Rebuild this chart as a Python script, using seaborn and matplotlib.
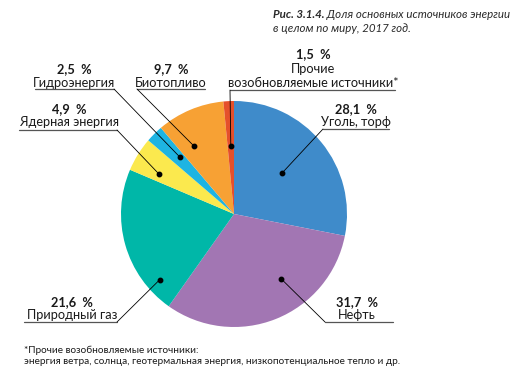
import numpy as np
import matplotlib
matplotlib.use("Agg")
import matplotlib.pyplot as plt
import seaborn as sns

# data
sources = ["Уголь, торф", "Нефть", "Природный газ", "Ядерная энергия",
           "Гидроэнергия", "Биотопливо", "Прочие\nвозобновляемые источники*"]
shares = [28.1, 31.7, 21.6, 4.9, 2.5, 9.7, 1.5]
colors = ["#3f8bca", "#a276b3", "#00b7a8", "#fbe94e", "#1eb4e2", "#f7a134", "#e5502b"]

title_bold = "Рис. 3.1.4."
title_rest = " Доля основных источников энергии"
title_line2 = "в целом по миру, 2017 год."
footnote = ("*Прочие возобновляемые источники:\n"
            "энергия ветра, солнца, геотермальная энергия, низкопотенциальное тепло и др.")

W, H = 516, 375
sns.set_theme(style="white")
plt.rcParams["font.family"] = ["Lato", "DejaVu Sans"]
pal = sns.color_palette(colors)

fig = plt.figure(figsize=(W / 100, H / 100), dpi=100)
ax = fig.add_axes([0, 0, 1, 1])
ax.axis("off")

def py(y):
    return H - y

cx, cy, r = 234, py(214), 113
ax.pie(shares, colors=pal, startangle=90, counterclock=False,
       center=(cx, cy), radius=r, wedgeprops=dict(linewidth=0))
ax.set_xlim(0, W)
ax.set_ylim(0, H)
ax.set_aspect("equal")

# label layout: (x center, y of value, y of name, underline x0, x1, y, leader from 'l'/'r',
#                angle fraction within wedge, radius fraction of dot)
layout = [
    (356, 109, 122, 323, 389, 129, "l", 0.49, 0.56),
    (357, 302, 315, 325, 393, 322, "l", 0.375, 0.71),
    (72, 302, 315, 24, 117, 322, "r", 0.17, 0.88),
    (69, 109, 122, 19, 117, 130, "r", 0.28, 0.75),
    (74, 69, 83, 35, 114, 89, "r", 0.64, 0.69),
    (171, 69, 83, 137, 205, 89, "l", 0.28, 0.70),
    (313, 54, 76, 230, 395, 90, "l", 0.5, 0.60),
]

cum = np.concatenate([[0], np.cumsum(shares)])
for i, (name, val) in enumerate(zip(sources, shares)):
    xc, yv, yn, u0, u1, uy, side, af, rf = layout[i]
    t1 = 90 - 3.6 * cum[i]
    t2 = 90 - 3.6 * cum[i + 1]
    ang = np.deg2rad(t1 + af * (t2 - t1))
    dx, dy = cx + rf * r * np.cos(ang), cy + rf * r * np.sin(ang)
    ax.text(xc, py(yv), f"{val:.1f}".replace(".", ",") + "  %", ha="center", va="center",
            fontsize=9.2, fontweight="bold", color="#1a1a1a")
    ax.text(xc, py(yn), name, ha="center", va="center", fontsize=9.2,
            color="#1a1a1a", linespacing=1.15)
    ax.plot([u0, u1], [py(uy), py(uy)], color="#555555", lw=0.9)
    lx = u0 if side == "l" else u1
    ax.plot([lx, dx], [py(uy), dy], color="black", lw=0.6)
    ax.plot(dx, dy, "o", color="black", ms=3.2)

# title
t = ax.text(273, py(15), title_bold, fontsize=8.3, fontweight="bold", style="italic",
            color="#2a2a2a", va="center", ha="left")
fig.canvas.draw()
bb = t.get_window_extent()
x_end = ax.transData.inverted().transform((bb.x1, 0))[0]
ax.text(x_end, py(15), title_rest, fontsize=8.3, style="italic",
        color="#2a2a2a", va="center", ha="left")
ax.text(273, py(28), title_line2, fontsize=8.3, style="italic",
        color="#2a2a2a", va="center", ha="left")

ax.text(24, py(356), footnote, fontsize=7.2, color="#1a1a1a", va="center",
        ha="left", linespacing=1.25)

fig.savefig("out.png", dpi=100)
